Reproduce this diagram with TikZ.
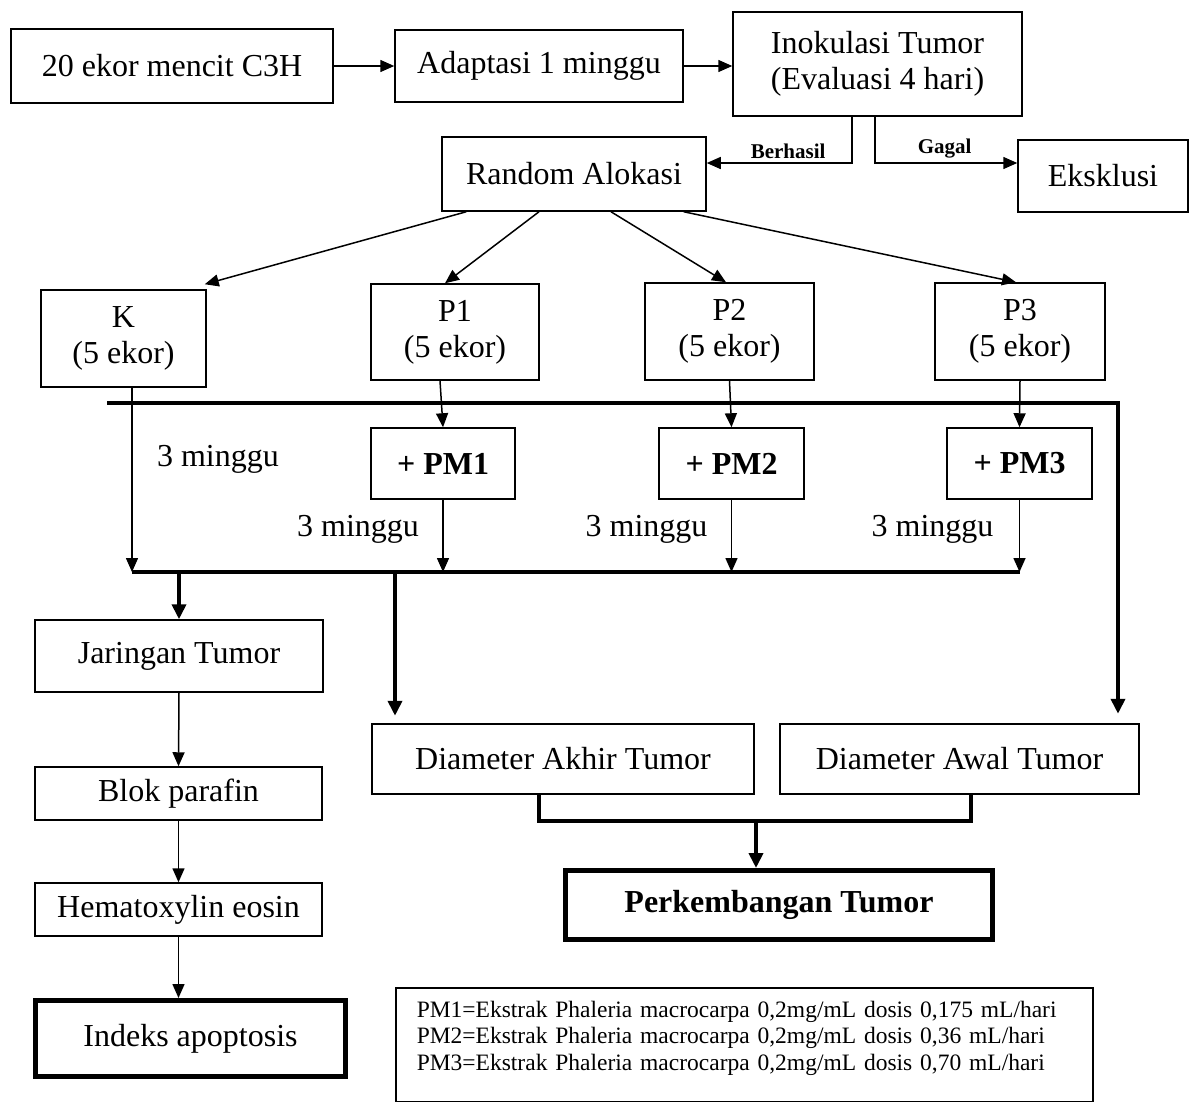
\documentclass[tikz,border=0pt]{standalone}
\usepackage{fontspec}
\setmainfont{Liberation Serif}
\usepackage{xcolor}
\usepackage{tikz}
\usetikzlibrary{shapes,arrows,arrows.meta,positioning}

\tikzset{
    box/.style={draw, rectangle, line width=1.5pt, inner sep=2pt, align=center},
    midbox/.style={box, line width=2.5pt},
    heavybox/.style={box, line width=5pt},
    thinarrow/.style={line width=1.5pt, -{Triangle[length=14pt,width=12pt]}},
    thickline/.style={line width=4pt},
    thickarrow/.style={line width=4pt, -{Triangle[length=15pt,width=14pt]}},
    smalllabel/.style={font=\fontsize{21}{24}\selectfont\bfseries, inner sep=4pt}
}

\begin{document}
\begin{tikzpicture}[x=1pt, y=-1pt, font=\fontsize{32}{36}\selectfont]
                \useasboundingbox (0,0) rectangle (1194,1104);

                \node[box, minimum width=322, minimum height=74] (mencit) at (172,66) {20 ekor mencit C3H};
                \node[box, minimum width=288, minimum height=72] (adaptasi) at (539,66) {Adaptasi 1 minggu};
                \node[box, minimum width=289, minimum height=104] (inokulasi) at (877.5,64) {Inokulasi Tumor\\(Evaluasi 4 hari)};
                \node[box, minimum width=264, minimum height=74] (random) at (574,174) {Random Alokasi};
                \node[box, minimum width=170, minimum height=72] (eksklusi) at (1103,176) {Eksklusi};

                \node[box, minimum width=165, minimum height=97] (k) at (123.5,338.5) {K\\(5 ekor)};
                \node[box, minimum width=168, minimum height=96] (p1) at (455,332) {P1\\(5 ekor)};
                \node[box, minimum width=169, minimum height=97] (p2) at (729.5,331.5) {P2\\(5 ekor)};
                \node[box, minimum width=170, minimum height=97] (p3) at (1020,331.5) {P3\\(5 ekor)};

                \node[box, minimum width=144, minimum height=71] (pm1) at (443,463.5) {\textbf{+ PM1}};
                \node[box, minimum width=145, minimum height=71] (pm2) at (731.5,463.5) {\textbf{+ PM2}};
                \node[box, minimum width=145, minimum height=71] (pm3) at (1019.5,463.5) {\textbf{+ PM3}};

                \node[box, minimum width=288, minimum height=72] (jaringan) at (179,656) {Jaringan Tumor};
                \node[box, minimum width=287, minimum height=53] (blok) at (178.5,793.5) {Blok parafin};
                \node[box, minimum width=287, minimum height=53] (hematoxylin) at (178.5,909.5) {Hematoxylin eosin};
                \node[heavybox, minimum width=310, minimum height=76] (indeks) at (190.5,1038.5) {Indeks apoptosis};

                \node[midbox, minimum width=382, minimum height=70] (akhir) at (563,759) {Diameter Akhir Tumor};
                \node[midbox, minimum width=359, minimum height=70] (awal) at (959.5,759) {Diameter Awal Tumor};
                \node[heavybox, minimum width=427, minimum height=69] (perkembangan) at (779,905) {\textbf{Perkembangan Tumor}};

                \node[
                    box,
                    anchor=north west,
                    text width=655,
                    inner xsep=21pt,
                    inner ysep=13pt,
                    align=left,
                    font=\fontsize{23.5}{26.5}\selectfont
                ] (keterangan) at (395,987) {PM1=Ekstrak Phaleria macrocarpa 0,2mg/mL dosis 0,175 mL/hari\\PM2=Ekstrak Phaleria macrocarpa 0,2mg/mL dosis 0,36 mL/hari\\PM3=Ekstrak Phaleria macrocarpa 0,2mg/mL dosis 0,70 mL/hari\\[-8pt]~};

                \coordinate (bustl) at (107,403);
                \coordinate (bustr) at (1118,403);
                \coordinate (busbl) at (132,572);
                \coordinate (akhirin) at ([xshift=-168pt]akhir.north);
                \coordinate (gabung) at (756,821);

                \draw[thinarrow] (mencit.east) -- (mencit.east -| adaptasi.west);
                \draw[thinarrow] (adaptasi.east) -- (adaptasi.east -| inokulasi.west);
                \draw[thinarrow] ([xshift=-25.5pt]inokulasi.south) |- ([yshift=11pt]random.east)
                    node[pos=0.72, above, smalllabel] (berhasil) {Berhasil};
                \draw[thinarrow] ([xshift=-2.5pt]inokulasi.south) |- ([yshift=13pt]eksklusi.west)
                    node[pos=0.745, above, smalllabel] (gagal) {Gagal};

                \draw[thinarrow] ([xshift=25pt]random.south west) -- ([xshift=-2pt,yshift=5pt]k.north east);
                \draw[thinarrow] ([xshift=-35pt]random.south) -- ([xshift=-10pt]p1.north);
                \draw[thinarrow] ([xshift=37pt]random.south) -- ([xshift=-3.5pt]p2.north);
                \draw[thinarrow] ([xshift=-23pt]random.south east) -- ([xshift=-4pt]p3.north);

                \draw[thickarrow, shorten >=9pt] (bustl) -- (bustr) -- (bustr |- awal.north);

                \draw[thinarrow] ([xshift=8.5pt]k.south) -- (busbl)
                    node[pos=0.39, right=21pt] (mingguk) {3 minggu};
                \draw[thinarrow] ([xshift=-15pt]p1.south) -- (pm1.north);
                \draw[thinarrow] (p2.south) -- (pm2.north);
                \draw[thinarrow] (p3.south) -- (pm3.north);
                \draw[thinarrow] (pm1.south) -- (pm1.south |- busbl)
                    node[pos=0.41, left=20pt] (minggu1) {3 minggu};
                \draw[thinarrow] (pm2.south) -- (pm2.south |- busbl)
                    node[pos=0.41, left=20pt] (minggu2) {3 minggu};
                \draw[thinarrow] (pm3.south) -- (pm3.south |- busbl)
                    node[pos=0.41, left=22pt] (minggu3) {3 minggu};

                \draw[thickline] (busbl) -- (pm3.south |- busbl);
                \draw[thickarrow] (jaringan.north |- busbl) -- (jaringan.north);
                \draw[thickarrow, shorten >=7pt] (akhirin |- busbl) -- (akhirin);

                \draw[thinarrow] (jaringan.south) -- (blok.north);
                \draw[thinarrow] (blok.south) -- (hematoxylin.north);
                \draw[thinarrow] (hematoxylin.south) -- (hematoxylin.south |- indeks.north);

                \draw[thickline] ([xshift=-24pt]akhir.south) |- (gabung) -| ([xshift=11.5pt]awal.south);
                \draw[thickarrow] (gabung) -- (gabung |- perkembangan.north);
\end{tikzpicture}
\end{document}
